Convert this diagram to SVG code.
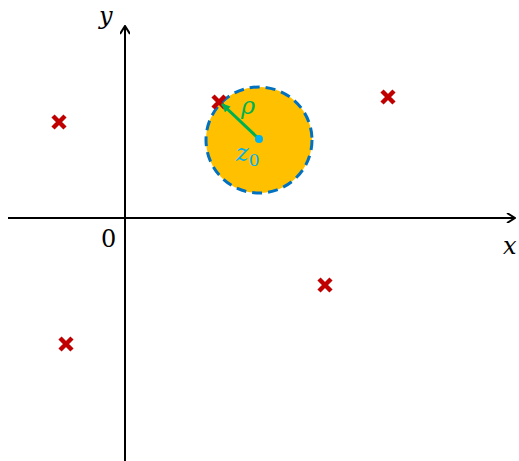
<svg xmlns="http://www.w3.org/2000/svg" width="519" height="461" viewBox="0 0 519 461">
<style>
.ax{stroke:#000;stroke-width:2;fill:none}
.cr{stroke:#C00000;stroke-width:4.5;stroke-linecap:butt;fill:none}
.lbl{font-family:"DejaVu Serif","Liberation Serif",serif;font-style:italic;font-size:24px}
.num{font-family:"DejaVu Serif","Liberation Serif",serif;font-size:24px}
</style>
<defs>
<marker id="ah" markerWidth="10" markerHeight="10" refX="9" refY="5" orient="auto" markerUnits="userSpaceOnUse">
<path d="M1,0 L9,5 L1,10" fill="none" stroke="#000" stroke-width="2"/>
</marker>
<marker id="gh" markerWidth="10" markerHeight="10" refX="8" refY="5" orient="auto" markerUnits="userSpaceOnUse">
<path d="M0,1 L9,5 L0,9 Z" fill="#00B050"/>
</marker>
</defs>
<g id="axes">
<line class="ax" x1="8" y1="218" x2="515" y2="218" marker-end="url(#ah)"/>
<line class="ax" x1="125" y1="461" x2="125" y2="26" marker-end="url(#ah)"/>
</g>
<g id="disk">
<circle cx="259" cy="140" r="53" fill="#FFC000" stroke="#0070C0" stroke-width="3" stroke-dasharray="10,6"/>
</g>
<g id="points">
<path class="cr" d="M53,116 L65,128 M65,116 L53,128"/>
<path class="cr" d="M382,91 L394,103 M394,91 L382,103"/>
<path class="cr" d="M213,96 L225,108 M225,96 L213,108"/>
<path class="cr" d="M319,279 L331,291 M331,279 L319,291"/>
<path class="cr" d="M60,338 L72,350 M72,338 L60,350"/>
</g>
<g id="connectors">
<line x1="259" y1="139" x2="222" y2="104" stroke="#00B050" stroke-width="3" marker-end="url(#gh)"/>
</g>
<g id="center">
<circle cx="259" cy="139" r="4" fill="#00B0F0"/>
</g>
<g id="labels">
<text class="lbl" x="99" y="24">y</text>
<text class="lbl" x="503" y="254">x</text>
<text class="num" x="101" y="247">0</text>
<text class="lbl" x="241" y="114" fill="#00B050">ρ</text>
<text class="lbl" x="236" y="161" fill="#00B0F0">z<tspan font-style="normal" font-size="17" dy="5">0</tspan></text>
</g>
</svg>
